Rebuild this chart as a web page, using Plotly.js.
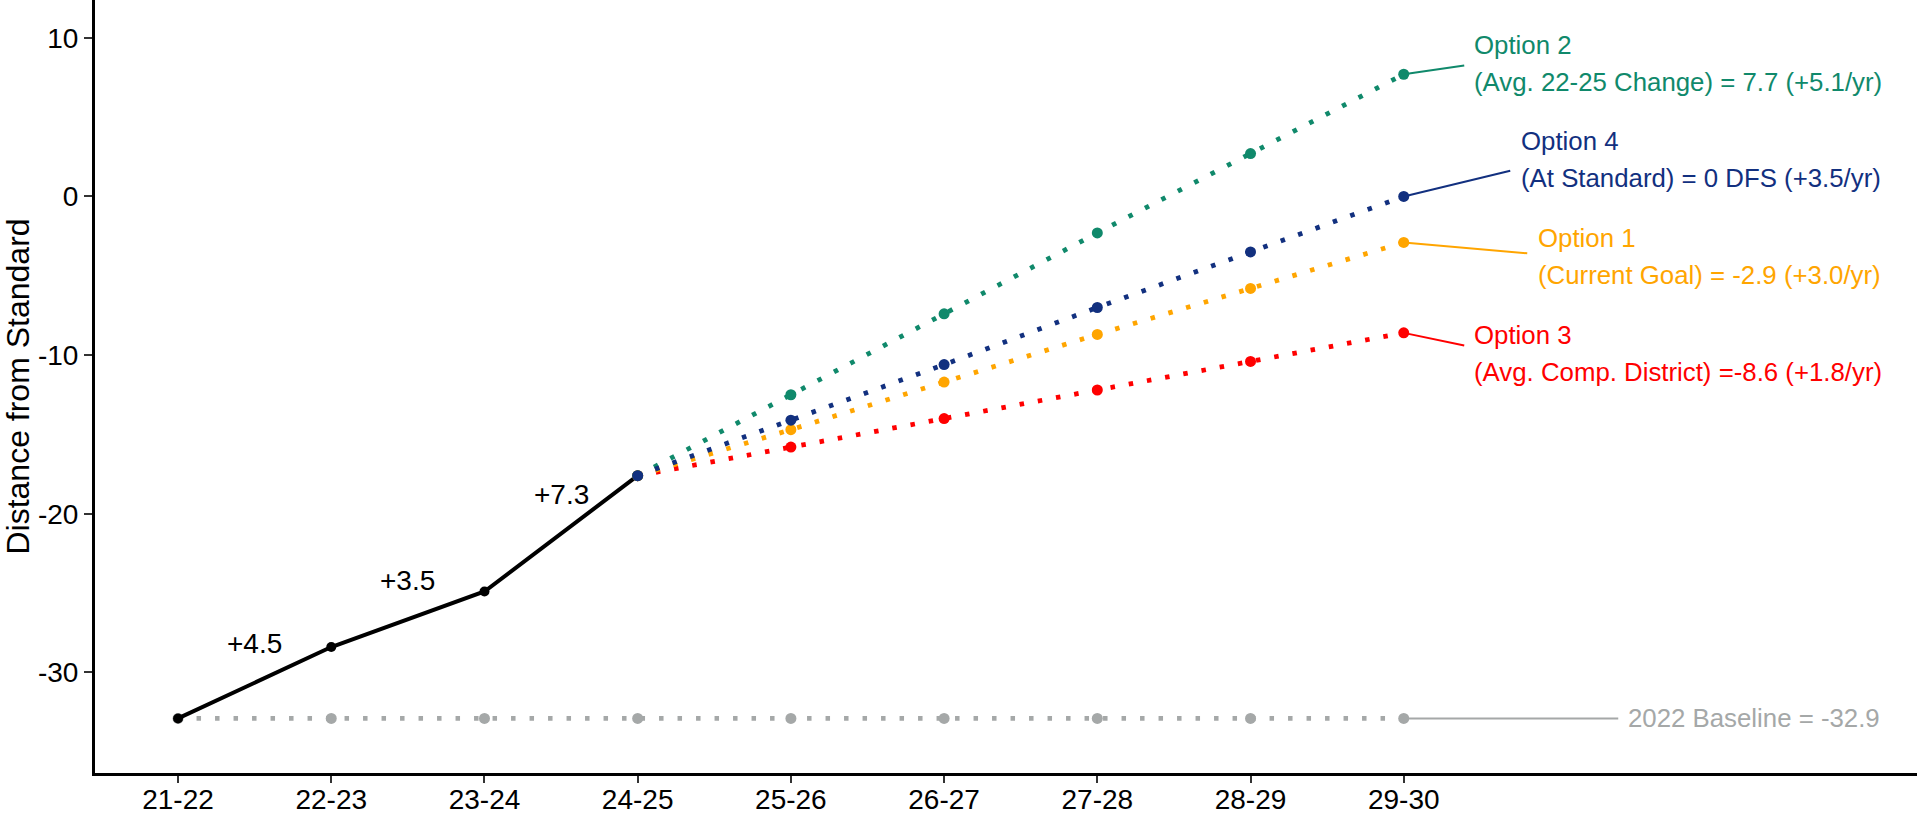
<!DOCTYPE html>
<html>
<head>
<meta charset="utf-8">
<script src="https://cdn.plot.ly/plotly-3.0.1.min.js"></script>
<style>
  html, body { margin: 0; padding: 0; background: #ffffff; }
  #chart { width: 1917px; height: 816px; }
</style>
</head>
<body>
<div id="chart"></div>
<script>
// ---- data ----
const seasons = ['21-22', '22-23', '23-24', '24-25', '25-26', '26-27', '27-28', '28-29', '29-30'];
const actualSeasons = ['21-22', '22-23', '23-24', '24-25'];
const actual = [-32.9, -28.4, -24.9, -17.6];
const baseline = [-32.9, -32.9, -32.9, -32.9, -32.9, -32.9, -32.9, -32.9, -32.9];
const projSeasons = ['24-25', '25-26', '26-27', '27-28', '28-29', '29-30'];
const option1 = [-17.6, -14.7, -11.7, -8.7, -5.8, -2.9];
const option2 = [-17.6, -12.5, -7.4, -2.3, 2.7, 7.7];
const option3 = [-17.6, -15.8, -14.0, -12.2, -10.4, -8.6];
const option4 = [-17.6, -14.1, -10.6, -7.0, -3.5, 0.0];
const optionNames = ['Option 1', 'Option 2', 'Option 3', 'Option 4'];
const optionDetails = ['(Current Goal) = -2.9 (+3.0/yr)', '(Avg. 22-25 Change) = 7.7 (+5.1/yr)',
                       '(Avg. Comp. District) =-8.6 (+1.8/yr)', '(At Standard) = 0 DFS (+3.5/yr)'];
const baselineLabel = '2022 Baseline = -32.9';
const yTitle = 'Distance from Standard';
const yTickVals = [-30, -20, -10, 0, 10];
const yTickText = ['-30', '-20', '-10', '0', '10'];

// ---- styles ----
const FONT = 'Liberation Sans, Arial, sans-serif';
const colors = {o1: '#FFA500', o2: '#10896B', o3: '#FF0000', o4: '#12307F', base: '#A5A8A8', act: '#000000'};
const DOTS = '4.5px,14px';
const LABEL_SIZE = 25.8;
const idx = s => seasons.indexOf(s);

function projTrace(vals, color) {
  return {
    x: projSeasons.map(idx), y: vals, type: 'scatter', mode: 'lines+markers',
    line: {color: color, width: 4.8, dash: DOTS},
    marker: {color: color, size: 11}, hoverinfo: 'skip', showlegend: false
  };
}

const traces = [
  {x: seasons.map(idx), y: baseline, type: 'scatter', mode: 'lines+markers',
   line: {color: colors.base, width: 4.8, dash: DOTS}, marker: {color: colors.base, size: 11},
   showlegend: false, hoverinfo: 'skip'},
  {x: actualSeasons.map(idx), y: actual, type: 'scatter', mode: 'lines+markers',
   line: {color: colors.act, width: 4}, marker: {color: colors.act, size: 10},
   showlegend: false, hoverinfo: 'skip'},
  projTrace(option3, colors.o3),
  projTrace(option1, colors.o1),
  projTrace(option2, colors.o2),
  projTrace(option4, colors.o4)
];

const annotations = [];
// change labels on actual segments
for (let i = 1; i < actual.length; i++) {
  const d = actual[i] - actual[i - 1];
  annotations.push({
    x: (idx(actualSeasons[i]) + idx(actualSeasons[i - 1])) / 2,
    y: (actual[i] + actual[i - 1]) / 2,
    text: '+' + d.toFixed(1), showarrow: false, yshift: 39,
    font: {family: FONT, size: 28, color: '#000000'}
  });
}

// option labels: [series, color, name index, text-left offset, line1 offset, line2 offset, connector end dx, dy]
const last = projSeasons[projSeasons.length - 1];
const optLabels = [
  [option2, colors.o2, 1, 68, -29, 8, 62, -9],
  [option4, colors.o4, 3, 115, -55, -18, 108, -26],
  [option1, colors.o1, 0, 132, -4, 33, 125, 11],
  [option3, colors.o3, 2, 68, 2, 39, 62, 13]
];
optLabels.forEach(([vals, col, k, tx, l1, l2, cx, cy]) => {
  const yv = vals[vals.length - 1];
  annotations.push({x: idx(last), y: yv, text: optionNames[k], showarrow: false,
    xanchor: 'left', yanchor: 'middle', xshift: tx, yshift: -l1,
    font: {family: FONT, size: LABEL_SIZE, color: col}});
  annotations.push({x: idx(last), y: yv, text: optionDetails[k], showarrow: false,
    xanchor: 'left', yanchor: 'middle', xshift: tx, yshift: -l2,
    font: {family: FONT, size: LABEL_SIZE, color: col}});
  annotations.push({x: idx(last), y: yv, text: '', showarrow: true, arrowhead: 0,
    arrowwidth: 2, arrowcolor: col, ax: cx, ay: cy, standoff: 0, startstandoff: 0});
});

// baseline label
annotations.push({x: idx(last), y: baseline[baseline.length - 1], text: baselineLabel, showarrow: false,
  xanchor: 'left', yanchor: 'middle', xshift: 222,
  font: {family: FONT, size: LABEL_SIZE, color: colors.base}});
annotations.push({x: idx(last), y: baseline[baseline.length - 1], text: '', showarrow: true, arrowhead: 0,
  arrowwidth: 2, arrowcolor: colors.base, ax: 216, ay: 0, standoff: 0, startstandoff: 0});

const layout = {
  width: 1917, height: 816,
  margin: {l: 95, r: 0, t: 0, b: 43},
  paper_bgcolor: '#ffffff', plot_bgcolor: '#ffffff',
  font: {family: FONT, size: 28, color: '#000000'},
  showlegend: false,
  xaxis: {
    range: [-0.542, 11.35], tickvals: seasons.map(idx), ticktext: seasons,
    showgrid: false, zeroline: false, showline: true, linecolor: '#000000', linewidth: 3,
    ticks: 'outside', ticklen: 7, tickwidth: 2, tickcolor: '#333333', ticklabelstandoff: -8,
    tickfont: {family: FONT, size: 28, color: '#000000'}
  },
  yaxis: {
    range: [-36.34, 12.38], tickvals: yTickVals, ticktext: yTickText,
    showgrid: false, zeroline: false, showline: true, linecolor: '#000000', linewidth: 3,
    ticks: 'outside', ticklen: 8, tickwidth: 2, tickcolor: '#333333',
    tickfont: {family: FONT, size: 28, color: '#000000'},
    title: {text: yTitle, font: {family: FONT, size: 32, color: '#000000'}, standoff: 7}
  },
  annotations: annotations
};

Plotly.newPlot('chart', traces, layout, {displayModeBar: false, staticPlot: true});
</script>
</body>
</html>
